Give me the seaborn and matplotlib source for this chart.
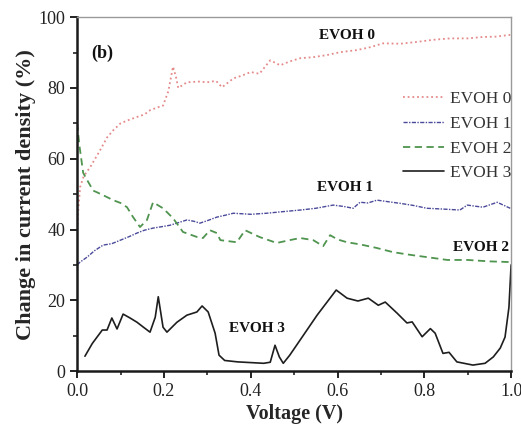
import matplotlib
matplotlib.use("Agg")
import matplotlib.pyplot as plt
from matplotlib.ticker import MultipleLocator
import pandas as pd
import seaborn as sns

# Change in current density vs. voltage for four EVOH samples
evoh0_v = [0.0, 0.003, 0.007, 0.015, 0.03, 0.053, 0.069, 0.083, 0.1, 0.12, 0.138, 0.155,
           0.168, 0.185, 0.198, 0.21, 0.221, 0.228, 0.233, 0.253, 0.28, 0.3, 0.32, 0.334,
           0.36, 0.38, 0.4, 0.42, 0.445, 0.468, 0.49, 0.514, 0.544, 0.576, 0.606, 0.645,
           0.675, 0.705, 0.745, 0.783, 0.82, 0.86, 0.9, 0.935, 0.965, 0.998]
evoh0_j = [40, 46, 52, 55, 57.6, 62.4, 66, 68, 70, 71, 71.8, 72.5,
           73.7, 74.5, 75, 79, 86, 83, 80, 81.6, 81.8, 81.6, 82, 80.2,
           82.7, 83.5, 84.5, 84, 87.8, 86.4, 87.5, 88.4, 88.7, 89.3, 90.1, 90.7,
           91.5, 92.6, 92.5, 93, 93.6, 94, 94, 94.4, 94.5, 95]

evoh1_v = [0.0, 0.007, 0.023, 0.04, 0.06, 0.08, 0.1, 0.12, 0.138, 0.155, 0.175, 0.195,
           0.214, 0.235, 0.253, 0.27, 0.283, 0.3, 0.322, 0.34, 0.36, 0.4, 0.437, 0.47,
           0.514, 0.55, 0.59, 0.615, 0.636, 0.652, 0.67, 0.691, 0.72, 0.744, 0.775, 0.806,
           0.84, 0.882, 0.899, 0.935, 0.968, 0.998]
evoh1_j = [30, 30.8, 32.2, 34, 35.6, 36, 37, 38, 39, 39.8, 40.4, 40.8,
           41.2, 42, 42.7, 42.3, 41.8, 42.5, 43.5, 44, 44.6, 44.3, 44.6, 45,
           45.5, 46, 46.9, 46.5, 46, 47.7, 47.5, 48.3, 47.8, 47.4, 46.8, 46,
           45.8, 45.5, 46.9, 46.3, 47.7, 46]

evoh2_v = [0.0, 0.005, 0.014, 0.023, 0.037, 0.046, 0.06, 0.083, 0.1, 0.115, 0.129, 0.145,
           0.161, 0.175, 0.198, 0.221, 0.244, 0.276, 0.29, 0.306, 0.322, 0.33, 0.368, 0.387,
           0.42, 0.46, 0.49, 0.514, 0.544, 0.567, 0.583, 0.6, 0.622, 0.652, 0.69, 0.728,
           0.77, 0.806, 0.853, 0.9, 0.95, 0.998]
evoh2_j = [70, 64, 56, 54, 51, 50.5, 49.7, 48.3, 47.5, 46.3, 43.5, 40.7,
           42.7, 47.7, 46, 43.2, 39.3, 37.9, 37.6, 39.8, 39, 37, 36.4, 39.8,
           37.9, 36.2, 37, 37.6, 37, 35.3, 38.4, 37.2, 36.4, 35.8, 34.8, 33.6,
           32.8, 32.2, 31.4, 31.4, 31, 30.8]

evoh3_v = [0.018, 0.035, 0.058, 0.069, 0.08, 0.092, 0.106, 0.122, 0.138, 0.155,
           0.168, 0.18, 0.187, 0.198, 0.207, 0.23, 0.253, 0.276, 0.288, 0.302,
           0.318, 0.327, 0.34, 0.37, 0.4, 0.43, 0.445, 0.456, 0.466, 0.475,
           0.49, 0.514, 0.553, 0.597, 0.622, 0.647, 0.671, 0.694, 0.71, 0.737,
           0.76, 0.772, 0.795, 0.814, 0.825, 0.843, 0.857, 0.875, 0.912, 0.94,
           0.959, 0.975, 0.986, 0.995, 1.0]
evoh3_j = [4.2, 7.8, 11.6, 11.6, 15, 11.9, 16.1, 15, 13.8, 12.2,
           11, 15.2, 21, 12.4, 11, 13.8, 15.8, 16.7, 18.4, 16.7,
           10.7, 4.5, 3, 2.6, 2.4, 2.2, 2.5, 7.3, 4, 2.2,
           4.5, 8.8, 15.8, 22.9, 20.6, 19.8, 20.6, 18.6, 19.5, 16.4,
           13.6, 13.9, 9.7, 12, 10.7, 5, 5.3, 2.6, 1.7, 2.2,
           4, 6.5, 9.6, 18, 30]

series_names = ["EVOH 0", "EVOH 1", "EVOH 2", "EVOH 3"]
x_ticks = [0.0, 0.2, 0.4, 0.6, 0.8, 1.0]
y_ticks = [0, 20, 40, 60, 80, 100]

sns.set_style("ticks")
plt.rcParams["font.family"] = ["Liberation Serif", "DejaVu Serif"]

fig = plt.figure(figsize=(5.21, 4.29), dpi=100)
ax = fig.add_axes([0.148, 0.135, 0.833, 0.825])

styles = [
    dict(color="#e58a8a", linestyle=(0, (1, 1.6)), linewidth=1.3),
    dict(color="#4a4a9a", linestyle=(0, (3, 1, 1, 1)), linewidth=1.0),
    dict(color="#4f944f", linestyle=(0, (4, 2.5)), linewidth=1.3),
    dict(color="#1e1e1e", linestyle="-", linewidth=1.2),
]
data = [(evoh0_v, evoh0_j), (evoh1_v, evoh1_j), (evoh2_v, evoh2_j), (evoh3_v, evoh3_j)]

for name, (v, j), st in zip(series_names, data, styles):
    df = pd.DataFrame({"Voltage": v, "Change": j})
    sns.lineplot(data=df, x="Voltage", y="Change", ax=ax, label=name,
                 estimator=None, sort=False, **st)

ax.set_xlim(0, 1.0)
ax.set_ylim(0, 100)
ax.set_xticks(x_ticks)
ax.set_yticks(y_ticks)
ax.set_xticklabels([f"{t:.1f}" for t in x_ticks])
ax.set_yticklabels([str(t) for t in y_ticks])
ax.xaxis.set_minor_locator(MultipleLocator(0.1))
ax.yaxis.set_minor_locator(MultipleLocator(10))
ax.tick_params(which="major", direction="out", length=5, width=1.4, labelsize=13,
               colors="#222222", top=False, right=False)
ax.tick_params(which="minor", direction="out", length=3, width=1.2, colors="#222222",
               top=False, right=False)

for side in ("left", "bottom"):
    ax.spines[side].set_linewidth(1.8)
    ax.spines[side].set_color("#1a1a1a")
for side in ("top", "right"):
    ax.spines[side].set_visible(True)
    ax.spines[side].set_linewidth(1.0)
    ax.spines[side].set_color("#9a9a9a")

ax.set_xlabel("Voltage (V)", fontsize=14.5, fontweight="bold", labelpad=3)
ax.set_ylabel("Change in current density (%)", fontsize=16, fontweight="bold", labelpad=2)

lab_kw = dict(fontsize=11, fontweight="bold", ha="center", va="center", color="#111111")
ax.text(0.058, 89.8, "(b)", fontsize=13, fontweight="bold", ha="center", va="center",
        color="#111111")
ax.text(0.622, 94.9, "EVOH 0", **lab_kw)
ax.text(0.618, 52.0, "EVOH 1", **lab_kw)
ax.text(0.93, 35.0, "EVOH 2", **lab_kw)
ax.text(0.415, 12.1, "EVOH 3", **lab_kw)

leg = ax.legend(loc="upper right", bbox_to_anchor=(1.0, 0.792), frameon=False,
                fontsize=12.5, handlelength=2.4, handletextpad=0.3,
                labelspacing=0.5, borderaxespad=0.0, borderpad=0.0)
for t in leg.get_texts():
    t.set_color("#333333")

fig.savefig("out.png", dpi=100)
